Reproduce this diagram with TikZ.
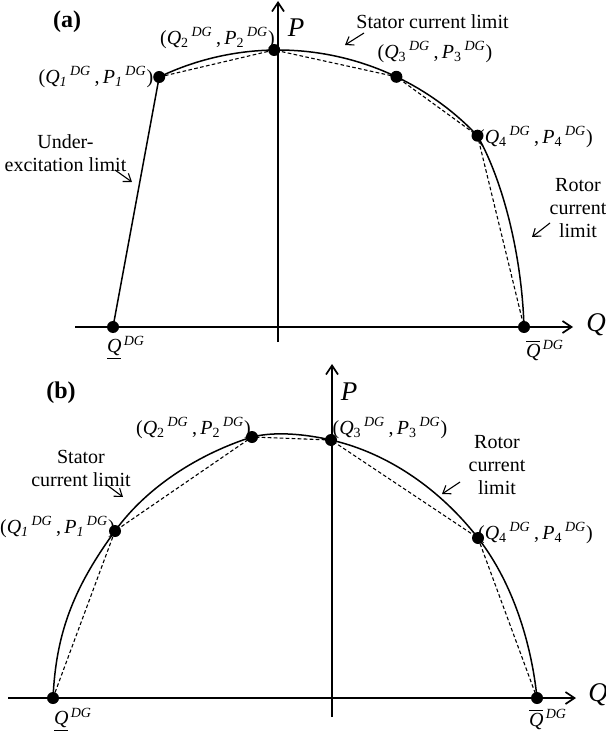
\documentclass[tikz,border=0pt]{standalone}
\usepackage{fontspec}
\setmainfont{Liberation Serif}
\usetikzlibrary{arrows.meta}
\newcommand{\qp}[1]{(\textit{Q}\textsubscript{#1}\textsuperscript{\,\textit{DG}}\,,\,\textit{P}\textsubscript{#1}\textsuperscript{\,\textit{DG}})}
\begin{document}
\begin{tikzpicture}[x=0.5pt,y=-0.5pt,
 axis/.style={line width=0.85pt,-{Straight Barb[length=4.5pt,width=6pt]}},
 limit/.style={line width=0.75pt},
 chord/.style={line width=0.55pt,dash pattern=on 1.8pt off 1.2pt},
 dot/.style={circle,fill=black,inner sep=0pt,minimum size=6pt},
 lbl/.style={inner sep=0pt,font=\fontsize{10}{11.5}\selectfont},
 ml/.style={lbl,align=center},
 ax/.style={inner sep=0pt,font=\fontsize{13.5}{15}\selectfont\itshape},
 panel/.style={inner sep=0pt,font=\fontsize{12}{14}\selectfont\bfseries},
 note/.style={line width=0.55pt,-{Straight Barb[length=3.5pt,width=5pt]}}]
\useasboundingbox (0,0) rectangle (605,737);
% ---------------- panel (a)
\coordinate (qaL) at (75,327); \coordinate (qaR) at (573,327);
\coordinate (paB) at (278,342); \coordinate (paT) at (278,1);
\draw[axis] (qaL) -- (qaR);
\draw[axis] (paB) -- (paT);
\node[dot] (aq0) at (113,327) {};
\node[dot] (a1) at (159.2,77.0) {};
\node[dot] (a2) at (274.2,50.0) {};
\node[dot] (a3) at (396.4,76.8) {};
\node[dot] (a4) at (477.5,135.7) {};
\node[dot] (aq5) at (524,327) {};
\draw[limit] (aq0.center) -- (a1.center);
\draw[limit] plot[domain=115.6:43.5,samples=60] ({278+275*cos(\x)},{325-275*sin(\x)});
\draw[limit] (a4.center) .. controls (505,185) and (522,260) .. (aq5.center);
\draw[chord] (a1.center) -- (a2.center) -- (a3.center) -- (a4.center) -- (aq5.center);
\node[panel] (ta) at (67,22) {(a)};
\node[ax] (tPa) at (296,28) {P};
\node[ax] (tQa) at (596,325) {Q};
\node[lbl] (la1) at (96,77) {\qp{\textit{1}}};
\node[lbl] (la2) at (217.5,38) {\qp{2}};
\node[lbl] (la3) at (435,52) {\qp{3}};
\node[lbl] (la4) at (535.5,137) {\qp{4}};
\node[lbl] (tsa) at (432.5,22) {Stator current limit};
\node[ml] (tua) at (65.5,153) {Under-\\excitation limit};
\node[ml] (tra) at (578,208) {Rotor\\current\\limit};
\node[lbl] (qla) at (126,348) {\underline{\textit{Q}}\textsuperscript{\,\textit{DG}}};
\node[lbl] (qha) at (545,350) {$\overline{\mbox{\textit{Q}}}$\textsuperscript{\,\textit{DG}}};
\coordinate (sa0) at (364,33); \coordinate (sa1) at (345,45);
\coordinate (ua0) at (115,170); \coordinate (ua1) at (132,182);
\coordinate (ra0) at (550,223); \coordinate (ra1) at (532,237);
\draw[note] (sa0) -- (sa1);
\draw[note] (ua0) -- (ua1);
\draw[note] (ra0) -- (ra1);
% ---------------- panel (b)
\coordinate (qbL) at (8,698); \coordinate (qbR) at (576,698);
\coordinate (pbB) at (332,717); \coordinate (pbT) at (332,364);
\draw[axis] (qbL) -- (qbR);
\draw[axis] (pbB) -- (pbT);
\node[dot] (bq0) at (53,698) {};
\node[dot] (b1) at (115,531) {};
\node[dot] (b2) at (252,437) {};
\node[dot] (b3) at (331,440) {};
\node[dot] (b4) at (478,538) {};
\node[dot] (bq5) at (537,698) {};
\draw[limit] (bq0.center) .. controls (56,635) and (72,590) .. (b1.center)
  .. controls (147.5,486) and (200,453.5) .. (b2.center)
  .. controls (276,431) and (306.6,434.4) .. (b3.center)
  .. controls (389.5,453.4) and (441.2,490.7) .. (b4.center)
  .. controls (514.8,585.3) and (532,648) .. (bq5.center);
\draw[chord] (bq0.center) -- (b1.center) -- (b2.center) -- (b3.center) -- (b4.center) -- (bq5.center);
\node[panel] (tb) at (61,393) {(b)};
\node[ax] (tPb) at (349,392) {P};
\node[ax] (tQb) at (598,695) {Q};
\node[lbl] (lb1) at (57.5,527) {\qp{\textit{1}}};
\node[lbl] (lb2) at (193.5,428) {\qp{2}};
\node[lbl] (lb3) at (390,428) {\qp{3}};
\node[lbl] (lb4) at (535.5,533) {\qp{4}};
\node[ml] (tsb) at (81,468) {Stator\\current limit};
\node[ml] (trb) at (497,465) {Rotor\\current\\limit};
\node[lbl] (qlb) at (73,720) {\underline{\textit{Q}}\textsuperscript{\,\textit{DG}}};
\node[lbl] (qhb) at (548,719) {$\overline{\mbox{\textit{Q}}}$\textsuperscript{\,\textit{DG}}};
\coordinate (sb0) at (107,485); \coordinate (sb1) at (123,497);
\coordinate (rb0) at (460,482); \coordinate (rb1) at (442,494);
\draw[note] (sb0) -- (sb1);
\draw[note] (rb0) -- (rb1);
\end{tikzpicture}
\end{document}
